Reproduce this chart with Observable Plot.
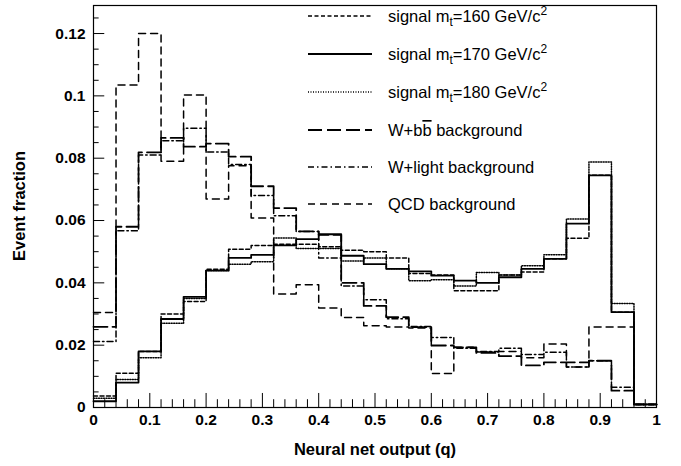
<!DOCTYPE html>
<html><head><meta charset="utf-8">
<script src="https://cdn.jsdelivr.net/npm/d3@7"></script>
<script src="https://cdn.jsdelivr.net/npm/@observablehq/plot@0.6"></script>
<style>body{margin:0;background:#fff}</style>
</head><body><div id="c"></div>
<script>
const binEdges = d3.range(0, 1.0001, 0.04).map(v => +v.toFixed(2));
const sig160 = [0.0037,0.011,0.018,0.030,0.034,0.0444,0.0508,0.052,0.0524,0.0524,0.0516,0.0505,0.050,0.048,0.043,0.0425,0.0375,0.0375,0.0425,0.0435,0.0477,0.0543,0.0745,0.0306,0.001];
const sig170 = [0.002,0.008,0.018,0.0284,0.0355,0.0439,0.048,0.049,0.052,0.054,0.0556,0.0487,0.046,0.0445,0.0437,0.0423,0.0407,0.040,0.0418,0.0445,0.0477,0.059,0.0745,0.0306,0.001];
const sig180 = [0.003,0.009,0.016,0.027,0.035,0.044,0.046,0.0468,0.0544,0.051,0.051,0.047,0.048,0.0445,0.0407,0.041,0.039,0.0433,0.0425,0.0455,0.049,0.0605,0.0788,0.0334,0.001];
const wbb = [0.0259,0.058,0.0819,0.0865,0.0837,0.0847,0.0805,0.071,0.064,0.0565,0.0554,0.040,0.0326,0.029,0.0258,0.0199,0.0193,0.0175,0.0165,0.0135,0.0145,0.0145,0.015,0.0054,0.001];
const wlight = [0.0212,0.0567,0.081,0.0856,0.0896,0.082,0.078,0.068,0.0615,0.0565,0.048,0.039,0.0346,0.0285,0.026,0.0225,0.019,0.018,0.019,0.017,0.0177,0.013,0.015,0.0065,0.001];
const qcd = [0.0305,0.1035,0.120,0.079,0.1003,0.0669,0.0776,0.0608,0.0364,0.0394,0.0319,0.0289,0.0262,0.0258,0.0255,0.0109,0.0193,0.0178,0.018,0.016,0.0204,0.013,0.0258,0.0258,0.001];
const yTicks = [0,0.02,0.04,0.06,0.08,0.1,0.12];
const xTicks = [0,0.1,0.2,0.3,0.4,0.5,0.6,0.7,0.8,0.9,1];

const series = [
  {name:"signal160", vals:sig160, dash:"4,2.5", w:1.5, label:["signal m","t","=160 GeV/c","2"]},
  {name:"signal170", vals:sig170, dash:null, w:1.8, label:["signal m","t","=170 GeV/c","2"]},
  {name:"signal180", vals:sig180, dash:"1,1.5", w:1.5, label:["signal m","t","=180 GeV/c","2"]},
  {name:"wbb", vals:wbb, dash:"14,5", w:1.8, label:"wbb"},
  {name:"wlight", vals:wlight, dash:"6,3,1.5,3", w:1.5, label:"W+light background"},
  {name:"qcd", vals:qcd, dash:"7,5", w:1.5, label:"QCD background"}
];
const toPts = s => { const p = s.vals.map((v,i)=>({x:binEdges[i], y:v})); p.push({x:1, y:s.vals[s.vals.length-1]}); return p; };

const minorX = d3.range(0, 1.0001, 0.02).map(v=>+v.toFixed(2));
const minorY = d3.range(0, 0.1291, 0.005).map(v=>+v.toFixed(3));
const isMajX = d => Math.abs(d*10-Math.round(d*10))<1e-6;
const isMajY = d => Math.abs(d*50-Math.round(d*50))<1e-6;
const marks = [
  Plot.frame({stroke:"black", strokeWidth:1.2}),
  Plot.ruleX(minorX, {x:d=>d, y1:0, y2:d=> isMajX(d)? 0.0045 : 0.0025, stroke:"black", strokeWidth:1}),
  Plot.ruleY(minorY, {y:d=>d, x1:0, x2:d=> isMajY(d)? 0.02 : 0.01, stroke:"black", strokeWidth:1}),
  Plot.axisX({ticks:xTicks, tickSize:0, tickPadding:6, tickFormat:d=>String(+d.toFixed(1)), label:null, fontSize:15.5, fontWeight:"bold"}),
  Plot.axisY({ticks:yTicks, tickSize:0, tickPadding:8, tickFormat:d=>String(+d.toFixed(2)), label:null, fontSize:15.5, fontWeight:"bold"})
];
for (const s of series) marks.push(Plot.line(toPts(s), {x:"x", y:"y", curve:"step-after", stroke:"black", strokeWidth:s.w, strokeDasharray:s.dash}));

const plot = Plot.plot({
  width:681, height:466, marginLeft:93, marginRight:25, marginTop:5, marginBottom:59,
  style:{fontFamily:"Liberation Sans, Arial, sans-serif", color:"black", background:"white"},
  x:{domain:[0,1]}, y:{domain:[0,0.129]},
  marks
});
document.getElementById("c").appendChild(plot);
const svg = d3.select(plot);
svg.append("text").attr("x",375).attr("y",455).attr("text-anchor","middle").attr("font-size",16.5).attr("font-weight","bold").attr("font-family","Liberation Sans, Arial").text("Neural net output (q)");
svg.append("text").attr("transform","translate(25,206) rotate(-90)").attr("text-anchor","middle").attr("font-size",16.5).attr("font-weight","bold").attr("font-family","Liberation Sans, Arial").text("Event fraction");
const lg = svg.append("g").attr("font-family","Liberation Sans, Arial").attr("font-size",16.5).attr("text-anchor","start");
const rows = [22,60,98,136,173,210];
series.forEach((s,i)=>{
  const y = rows[i];
  lg.append("line").attr("x1",308).attr("x2",372).attr("y1",y-6).attr("y2",y-6).attr("stroke","black").attr("stroke-width",s.w).attr("stroke-dasharray",s.dash);
  const t = lg.append("text").attr("x",388).attr("y",y);
  if (Array.isArray(s.label)) {
    t.append("tspan").text(s.label[0]);
    t.append("tspan").attr("dy",4).attr("font-size",12).text(s.label[1]);
    t.append("tspan").attr("dy",-4).text(s.label[2]);
    t.append("tspan").attr("dy",-7).attr("font-size",12).text(s.label[3]);
  } else if (s.label==="wbb") {
    t.append("tspan").text("W+b");
    t.append("tspan").attr("text-decoration","overline").text("b");
    t.append("tspan").text(" background");
  } else t.text(s.label);
});
</script></body></html>
